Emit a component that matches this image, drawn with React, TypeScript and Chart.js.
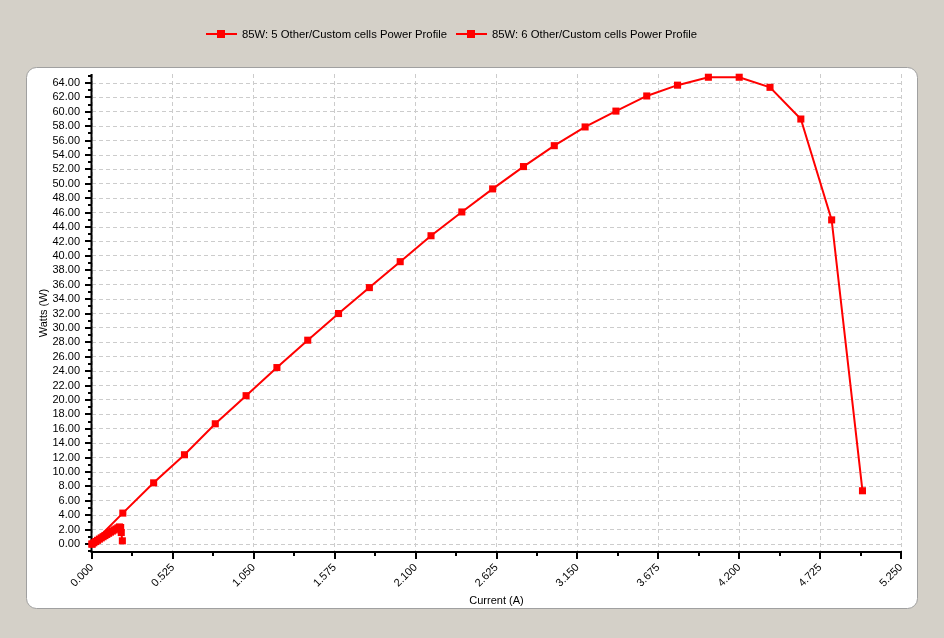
import React, { useEffect, useRef } from 'react';
import { Chart, registerables } from 'chart.js';

Chart.register(...registerables);

const seriesLabels = [
  '85W: 5 Other/Custom cells Power Profile',
  '85W: 6 Other/Custom cells Power Profile',
];

const currentA = [0, 0.2, 0.4, 0.6, 0.8, 1.0, 1.2, 1.4, 1.6, 1.8, 2.0, 2.2, 2.4, 2.6, 2.8, 3.0, 3.2, 3.4, 3.6, 3.8, 4.0, 4.2, 4.4, 4.6, 4.8, 5.0];
const wattsA = [0, 4.3, 8.5, 12.4, 16.7, 20.6, 24.5, 28.3, 32.0, 35.6, 39.2, 42.8, 46.1, 49.3, 52.4, 55.3, 57.9, 60.1, 62.2, 63.7, 64.8, 64.8, 63.4, 59.0, 45.0, 7.4];

const currentB = [0, 0.012, 0.024, 0.036, 0.048, 0.06, 0.072, 0.084, 0.096, 0.108, 0.12, 0.132, 0.144, 0.156, 0.168, 0.178, 0.186, 0.19, 0.197];
const wattsB = [0, 0.18, 0.35, 0.52, 0.69, 0.86, 1.02, 1.18, 1.34, 1.5, 1.66, 1.81, 1.96, 2.1, 2.25, 2.38, 2.3, 1.6, 0.45];

const xTickValues = [0, 0.525, 1.05, 1.575, 2.1, 2.625, 3.15, 3.675, 4.2, 4.725, 5.25];
const yTickValues = [0, 2, 4, 6, 8, 10, 12, 14, 16, 18, 20, 22, 24, 26, 28, 30, 32, 34, 36, 38, 40, 42, 44, 46, 48, 50, 52, 54, 56, 58, 60, 62, 64];

const X_MIN = 0;
const X_MAX = 5.25;
const Y_MIN = -1.1;
const Y_MAX = 65.25;

const FONT = '"Liberation Sans", Arial, sans-serif';
const RED = '#FF0000';

const backgroundPlugin = {
  id: 'panelBackground',
  beforeDraw(chart: any) {
    const { ctx, width, height } = chart;
    ctx.save();
    ctx.fillStyle = '#D4D0C8';
    ctx.fillRect(0, 0, width, height);
    const x = 26.5, y = 67.5, w = 891, h = 541, r = 10;
    ctx.beginPath();
    ctx.moveTo(x + r, y);
    ctx.lineTo(x + w - r, y);
    ctx.arcTo(x + w, y, x + w, y + r, r);
    ctx.lineTo(x + w, y + h - r);
    ctx.arcTo(x + w, y + h, x + w - r, y + h, r);
    ctx.lineTo(x + r, y + h);
    ctx.arcTo(x, y + h, x, y + h - r, r);
    ctx.lineTo(x, y + r);
    ctx.arcTo(x, y, x + r, y, r);
    ctx.closePath();
    ctx.fillStyle = '#FFFFFF';
    ctx.fill();
    ctx.strokeStyle = '#A0A0A0';
    ctx.lineWidth = 1;
    ctx.stroke();
    ctx.restore();
  },
};

const axesPlugin = {
  id: 'axesTicks',
  beforeDatasetsDraw(chart: any) {
    const { ctx, chartArea: ca } = chart;
    const xs = chart.scales.x;
    const ys = chart.scales.y;
    ctx.save();
    ctx.strokeStyle = '#000000';
    ctx.lineWidth = 2;
    ctx.beginPath();
    ctx.moveTo(ca.left - 0.5, ca.top);
    ctx.lineTo(ca.left - 0.5, ca.bottom + 1);
    ctx.moveTo(ca.left - 1.5, ca.bottom);
    ctx.lineTo(ca.right + 1, ca.bottom);
    for (let i = 0; i < xTickValues.length; i++) {
      const px = Math.round(xs.getPixelForValue(xTickValues[i]));
      ctx.moveTo(px, ca.bottom);
      ctx.lineTo(px, ca.bottom + 7);
      if (i < xTickValues.length - 1) {
        const mx = Math.round(xs.getPixelForValue((xTickValues[i] + xTickValues[i + 1]) / 2));
        ctx.moveTo(mx, ca.bottom);
        ctx.lineTo(mx, ca.bottom + 4);
      }
    }
    for (let v = Math.ceil(Y_MIN); v <= Y_MAX; v += 1) {
      const py = Math.round(ys.getPixelForValue(v));
      const major = v % 2 === 0;
      ctx.moveTo(ca.left - 1, py);
      ctx.lineTo(ca.left - (major ? 7 : 4), py);
    }
    ctx.stroke();
    ctx.restore();
  },
};

const legendPlugin = {
  id: 'customLegend',
  afterDraw(chart: any) {
    const { ctx } = chart;
    const starts = [206, 456];
    const cy = 34;
    ctx.save();
    ctx.font = `11.3px ${FONT}`;
    ctx.textBaseline = 'middle';
    ctx.textAlign = 'left';
    chart.data.datasets.forEach((ds: any, i: number) => {
      const x0 = starts[i];
      ctx.strokeStyle = ds.borderColor;
      ctx.lineWidth = 2;
      ctx.beginPath();
      ctx.moveTo(x0, cy);
      ctx.lineTo(x0 + 31, cy);
      ctx.stroke();
      ctx.fillStyle = ds.borderColor;
      ctx.fillRect(x0 + 11, cy - 4, 8, 8);
      ctx.fillStyle = '#000000';
      ctx.fillText(ds.label, x0 + 36, cy + 0.5);
    });
    ctx.restore();
  },
};

export default function App() {
  const ref = useRef<HTMLCanvasElement>(null);

  useEffect(() => {
    if (!ref.current) return;
    const dataA = currentA.map((c, i) => ({ x: c, y: wattsA[i] }));
    const dataB = currentB.map((c, i) => ({ x: c, y: wattsB[i] }));
    const datasetStyle = {
      borderColor: RED,
      backgroundColor: RED,
      borderWidth: 2,
      pointStyle: 'rect',
      pointRadius: 5,
      pointBorderWidth: 0,
      pointBackgroundColor: RED,
      tension: 0,
      clip: false as any,
      showLine: true,
    };
    const chart = new Chart(ref.current, {
      type: 'scatter',
      data: {
        datasets: [
          { label: seriesLabels[0], data: dataA, ...datasetStyle } as any,
          { label: seriesLabels[1], data: dataB, ...datasetStyle } as any,
        ],
      },
      options: {
        responsive: false,
        animation: false,
        devicePixelRatio: 1,
        layout: { padding: { left: 26, right: 43, top: 74, bottom: 30 } },
        plugins: {
          legend: { display: false },
          tooltip: { enabled: false },
        },
        scales: {
          x: {
            type: 'linear',
            min: X_MIN,
            max: X_MAX,
            afterBuildTicks: (scale: any) => {
              scale.ticks = xTickValues.map((v) => ({ value: v }));
            },
            afterFit: (scale: any) => {
              scale.height = 56;
            },
            ticks: {
              color: '#000000',
              font: { family: FONT, size: 11 },
              minRotation: 45,
              maxRotation: 45,
              padding: 3,
              autoSkip: false,
              callback: (v: any) => Number(v).toFixed(3),
            },
            grid: {
              color: '#CCCCCC',
              lineWidth: 1,
              drawTicks: true,
              tickLength: 6,
              tickColor: 'rgba(0,0,0,0)',
            },
            border: { display: false, dash: [4, 3] },
            title: {
              display: true,
              text: 'Current (A)',
              color: '#000000',
              font: { family: FONT, size: 11 },
              padding: { top: 0, bottom: 0 },
            },
          },
          y: {
            type: 'linear',
            min: Y_MIN,
            max: Y_MAX,
            afterBuildTicks: (scale: any) => {
              scale.ticks = yTickValues.map((v) => ({ value: v }));
            },
            afterFit: (scale: any) => {
              scale.width = 66;
            },
            ticks: {
              color: '#000000',
              font: { family: FONT, size: 11 },
              padding: 4,
              autoSkip: false,
              callback: (v: any) => Number(v).toFixed(2),
            },
            grid: {
              color: '#CCCCCC',
              lineWidth: 1,
              drawTicks: true,
              tickLength: 8,
              tickColor: 'rgba(0,0,0,0)',
            },
            border: { display: false, dash: [4, 3] },
            title: {
              display: true,
              text: 'Watts (W)',
              color: '#000000',
              font: { family: FONT, size: 11 },
              padding: { top: 11.4, bottom: 0 },
            },
          },
        },
      },
      plugins: [backgroundPlugin, axesPlugin, legendPlugin],
    } as any);
    return () => chart.destroy();
  }, []);

  return (
    <div style={{ position: 'absolute', left: 0, top: 0, width: 944, height: 638 }}>
      <canvas ref={ref} width={944} height={638} style={{ display: 'block', width: 944, height: 638 }} />
    </div>
  );
}
